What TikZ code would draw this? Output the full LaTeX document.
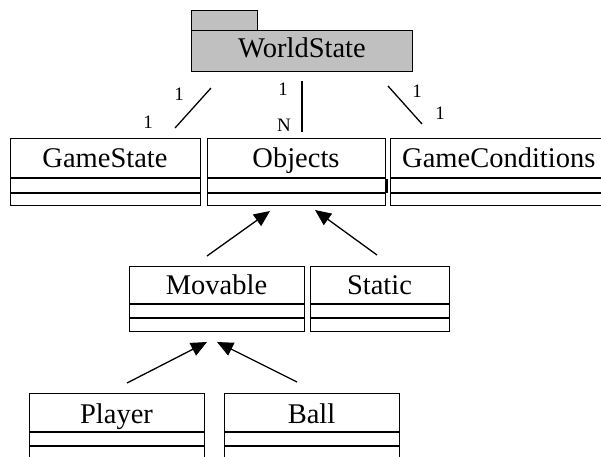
\documentclass[tikz,border=0pt]{standalone}
\usepackage{fontspec}
\setmainfont{Liberation Serif}
\usetikzlibrary{arrows.meta}
\definecolor{pkggray}{HTML}{C0C0C0}
\tikzset{
  box/.style={draw=black, line width=1.3pt, inner sep=0pt, anchor=north west, fill=white},
  pkg/.style={box, fill=pkggray},
  cname/.style={inner sep=0pt, anchor=base, font=\fontsize{28.5}{28.5}\selectfont},
  mult/.style={inner sep=0pt, font=\fontsize{19}{19}\selectfont},
  assoc/.style={line width=1.3pt},
  inherit/.style={line width=1.3pt, -{Triangle[length=16pt, width=14pt]}},
}
% \umlcls{name}{x1}{y1}{x2}{y2}{line1}{line2}{text}{baseline}
\newcommand{\umlcls}[9]{%
  \node[box, minimum width={#4-#2}, minimum height={#5-#3}] (#1) at (#2,#3) {};
  \draw[line width=1.3pt] (#2,#6) -- (#4,#6);
  \draw[line width=1.3pt] (#2,#7) -- (#4,#7);
  \node[cname] (#1-t) at ({(#2+#4)/2},#9) {#8};
}
\begin{document}
\begin{tikzpicture}[x=1pt, y=-1pt]
\useasboundingbox[fill=white] (0,0) rectangle (601,456);
\begin{scope}
\clip (0,0) rectangle (601,456);
% package WorldState
\node[pkg, minimum width=66, minimum height=21] (tab) at (191,10) {};
\node[pkg, minimum width=221, minimum height=41] (ws) at (191,30) {};
\node[cname] (ws-t) at (302,57) {WorldState};
% row 2
\umlcls{gs}{10}{138}{200}{205}{178}{193}{GameState}{167}
\umlcls{obj}{207}{138}{385}{205}{178}{193}{Objects}{167}
\draw[line width=3pt] (obj.east |- 0,179) -- (obj.east |- 0,193);
\umlcls{gc}{390}{138}{720}{205}{178}{193}{}{167}
\node[cname, anchor=base west] (gc-t) at (402,167) {GameConditions};
% row 3
\umlcls{mov}{129}{266}{304}{331}{304}{318}{Movable}{294}
\umlcls{st}{310}{266}{449}{331}{304}{318}{Static}{294}
% row 4
\umlcls{pl}{29}{393}{204}{480}{432}{446}{Player}{423}
\umlcls{ball}{224}{393}{399}{480}{432}{446}{Ball}{423}
% association ends
\coordinate (a1s) at (211,88); \coordinate (a1e) at (175,128);
\coordinate (a2s) at (302,81); \coordinate (a2e) at (302,132);
\coordinate (a3s) at (388,86); \coordinate (a3e) at (422,124);
\draw[assoc] (a1s) -- (a1e);
\draw[assoc] (a2s) -- (a2e);
\draw[assoc] (a3s) -- (a3e);
\node[mult] (m1a) at (179,94) {1};
\node[mult] (m1b) at (148,122) {1};
\node[mult] (m2a) at (283,89) {1};
\node[mult] (m2b) at (284,125) {N};
\node[mult] (m3a) at (417,91) {1};
\node[mult] (m3b) at (440,113) {1};
% inheritance arrows
\coordinate (i1s) at (207,256); \coordinate (i1e) at (270,211);
\coordinate (i2s) at (377,255); \coordinate (i2e) at (315,210);
\coordinate (i3s) at (127,383); \coordinate (i3e) at (207,342);
\coordinate (i4s) at (297,382); \coordinate (i4e) at (217,342);
\draw[inherit] (i1s) -- (i1e);
\draw[inherit] (i2s) -- (i2e);
\draw[inherit] (i3s) -- (i3e);
\draw[inherit] (i4s) -- (i4e);
\end{scope}
\end{tikzpicture}
\end{document}
